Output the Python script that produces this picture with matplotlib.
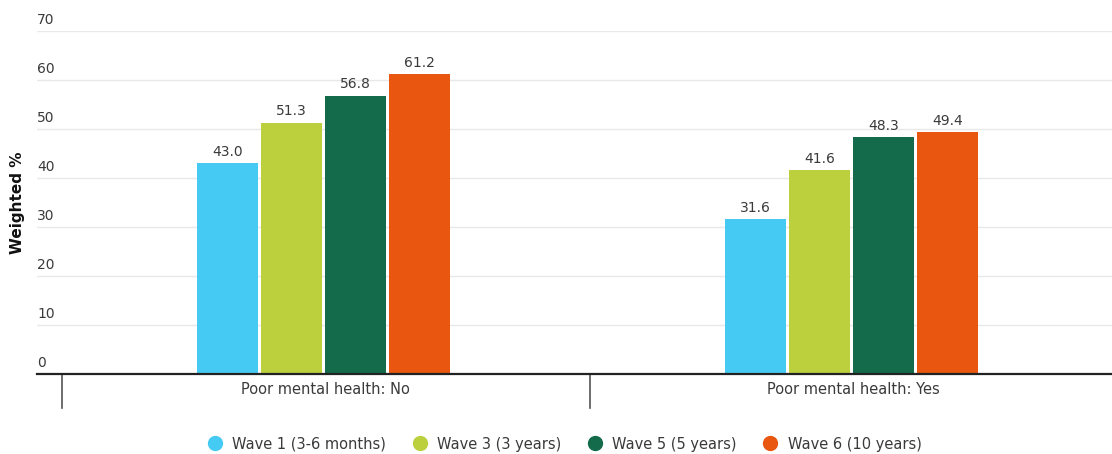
import matplotlib
matplotlib.use("Agg")
import matplotlib.pyplot as plt
import numpy as np
from matplotlib.lines import Line2D
import matplotlib.transforms as mtransforms

categories = ["Poor mental health: No", "Poor mental health: Yes"]
series_names = ["Wave 1 (3-6 months)", "Wave 3 (3 years)", "Wave 5 (5 years)", "Wave 6 (10 years)"]
wave1 = [43.0, 31.6]
wave3 = [51.3, 41.6]
wave5 = [56.8, 48.3]
wave6 = [61.2, 49.4]
y_ticks = [0, 10, 20, 30, 40, 50, 60, 70]

colors = ["#45CBF3", "#BCD03E", "#136B4B", "#E8560F"]
text_color = "#3a3a3a"
plt.rcParams["font.family"] = ["DejaVu Sans"]

fig = plt.figure(figsize=(11.12, 4.54), dpi=100)
ax = fig.add_axes([37 / 1112, 80 / 454, 1 - 37 / 1112, 343 / 454])

x = np.arange(len(categories))
bar_w = 0.1155
step = 0.1215
all_series = [wave1, wave3, wave5, wave6]
for i, (vals, col) in enumerate(zip(all_series, colors)):
    pos = x + (i - 1.5) * step - 0.004
    bars = ax.bar(pos, vals, width=bar_w, color=col, edgecolor="none", zorder=3)
    for b, v in zip(bars, vals):
        ax.text(b.get_x() + b.get_width() / 2, v + 0.9, f"{v:.1f}",
                ha="center", va="bottom", fontsize=10, color=text_color, zorder=4)

ax.set_xlim(-0.547, 1.489)
ax.set_ylim(0, 70)

# horizontal grid lines with labels sitting above them
for t in y_ticks[1:]:
    ax.axhline(t, color="#e8e8e8", linewidth=1, zorder=1)
trans = mtransforms.blended_transform_factory(ax.transAxes, ax.transData)
for t in y_ticks:
    ax.text(0.0, t + 0.9, str(t), transform=trans, ha="left", va="bottom",
            fontsize=10, color=text_color)

ax.set_yticks([])
ax.set_xticks([])
for s in ["top", "right", "left"]:
    ax.spines[s].set_visible(False)
ax.spines["bottom"].set_linewidth(1.6)
ax.spines["bottom"].set_color("#222222")
ax.spines["bottom"].set_zorder(5)

# category divider ticks below the axis
trans_x = mtransforms.blended_transform_factory(ax.transData, ax.transAxes)
for d in [-0.5, 0.5]:
    ax.add_line(Line2D([d, d], [0, -34 / 343], transform=trans_x, color="#555555",
                       linewidth=1.2, clip_on=False))
for xi, cat in zip(x, categories):
    ax.text(xi, -16 / 343, cat, transform=trans_x, ha="center", va="center",
            fontsize=10.5, color=text_color)

fig.text(18 / 1112, 1 - 203 / 454, "Weighted %", rotation=90, ha="center", va="center",
         fontsize=11, fontweight="bold", color="#111111")

handles = [Line2D([0], [0], marker="o", linestyle="none", markersize=10,
                  markerfacecolor=c, markeredgecolor=c) for c in colors]
fig.legend(handles, series_names, loc="center", bbox_to_anchor=(561 / 1112, 1 - 444 / 454),
           ncol=4, frameon=False, fontsize=10.5, handletextpad=0.2, columnspacing=1.3,
           labelcolor=text_color)

fig.savefig("out.png", dpi=100)
